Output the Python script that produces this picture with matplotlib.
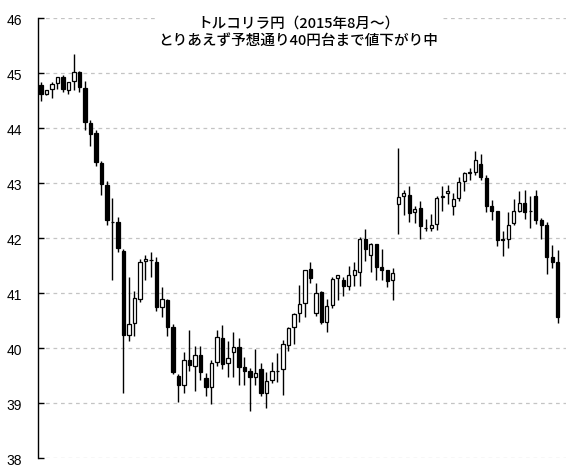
import matplotlib
matplotlib.use('Agg')
import matplotlib.pyplot as plt
import numpy as np


# daily candles (TRY/JPY from Aug 2015)
opens = [44.79, 44.62, 44.71, 44.82, 44.93, 44.69, 44.85, 45.02, 44.73, 44.09,
         43.91, 43.37, 42.97, 42.30, 42.30, 41.76, 40.23, 40.46, 40.90, 41.58,
         41.60, 41.56, 40.74, 40.88, 40.38, 39.50, 39.33, 39.78, 39.68, 39.88,
         39.45, 39.30, 39.75, 40.18, 39.73, 39.93, 40.02, 39.65, 39.58, 39.48,
         39.62, 39.19, 39.41, 39.59, 39.62, 40.05, 40.38, 40.64, 40.82, 41.44,
         40.64, 41.01, 40.47, 40.78, 41.27, 41.24, 41.12, 41.32, 41.39, 41.98,
         41.70, 41.89, 41.47, 41.41, 41.24, 42.62, 42.76, 42.79, 42.47, 42.55,
         42.18, 42.18, 42.25, 42.74, 42.81, 42.58, 42.72, 43.03, 43.18, 43.20,
         43.35, 43.09, 42.59, 42.50, 41.98, 41.99, 42.27, 42.50, 42.64, 42.50,
         42.77, 42.33, 42.24, 41.65, 41.56]
highs = [44.84, 44.70, 44.84, 44.93, 44.97, 44.84, 45.35, 45.04, 44.86, 44.14,
         43.97, 43.40, 43.04, 42.72, 42.39, 41.80, 41.29, 41.03, 41.61, 41.70,
         41.74, 41.65, 41.11, 40.90, 40.44, 39.53, 39.93, 40.33, 40.04, 40.04,
         39.55, 39.79, 40.33, 40.41, 40.13, 40.30, 40.19, 39.83, 39.64, 39.98,
         39.72, 39.56, 39.75, 39.91, 40.15, 40.39, 40.64, 41.15, 41.41, 41.57,
         41.19, 41.03, 40.90, 41.29, 41.33, 41.30, 41.50, 41.56, 42.01, 42.16,
         41.91, 41.89, 41.80, 41.42, 41.45, 43.64, 42.88, 42.94, 42.59, 42.67,
         42.35, 42.44, 42.76, 42.94, 42.97, 42.82, 43.11, 43.20, 43.27, 43.59,
         43.52, 43.15, 42.70, 42.50, 42.12, 42.48, 42.71, 42.85, 42.88, 42.77,
         42.88, 42.36, 42.30, 41.88, 41.79]
lows = [44.50, 44.60, 44.55, 44.71, 44.65, 44.61, 44.70, 44.65, 43.96, 43.68,
        43.31, 42.78, 42.24, 41.23, 41.75, 39.19, 40.12, 40.21, 40.83, 41.23,
        41.29, 40.68, 40.56, 40.22, 39.53, 39.01, 39.19, 39.59, 39.21, 39.42,
        39.12, 38.98, 39.67, 39.62, 39.48, 39.48, 39.33, 39.33, 38.85, 39.32,
        39.12, 38.91, 39.36, 39.39, 39.15, 39.94, 40.08, 40.48, 40.56, 41.19,
        40.58, 40.43, 40.30, 40.72, 40.87, 40.94, 41.06, 41.12, 41.12, 41.59,
        41.38, 41.24, 41.24, 41.11, 40.88, 42.08, 42.41, 42.30, 42.28, 41.98,
        42.12, 42.12, 42.15, 42.50, 42.62, 42.41, 42.68, 42.86, 43.06, 43.14,
        43.05, 42.47, 42.33, 41.85, 41.67, 41.82, 42.23, 42.48, 42.35, 42.19,
        42.25, 41.98, 41.35, 41.45, 40.45]
closes = [44.62, 44.70, 44.80, 44.93, 44.71, 44.84, 45.02, 44.75, 44.11, 43.89,
          43.38, 42.98, 42.33, 42.29, 41.82, 40.23, 40.43, 40.91, 41.57, 41.62,
          41.60, 40.74, 40.90, 40.38, 39.56, 39.33, 39.78, 39.69, 39.88, 39.56,
          39.30, 39.73, 40.20, 39.71, 39.82, 40.02, 39.65, 39.59, 39.48, 39.55,
          39.19, 39.40, 39.59, 39.59, 40.07, 40.36, 40.62, 40.80, 41.41, 41.28,
          41.00, 40.48, 40.77, 41.25, 41.32, 41.12, 41.32, 41.41, 41.98, 41.80,
          41.89, 41.47, 41.41, 41.21, 41.36, 42.74, 42.81, 42.45, 42.53, 42.21,
          42.18, 42.24, 42.73, 42.76, 42.85, 42.71, 43.02, 43.18, 43.20, 43.41,
          43.11, 42.58, 42.50, 41.96, 41.96, 42.24, 42.50, 42.64, 42.48, 42.50,
          42.33, 42.24, 41.65, 41.56, 40.56]

title_lines = ['トルコリラ円（2015年8月～）', 'とりあえず予想通り40円台まで値下がり中']
y_ticks = [38, 39, 40, 41, 42, 43, 44, 45, 46]


fig = plt.figure(figsize=(5.66, 4.77), dpi=100)
ax = fig.add_axes([0.068, 0.0377, 0.932, 0.9224])

x = np.arange(len(opens))
o = np.array(opens)
c = np.array(closes)
up = c >= o

ax.vlines(x, lows, highs, color='black', linewidth=1.0, zorder=2)
ax.bar(x, np.abs(c - o), bottom=np.minimum(o, c), width=0.6,
       color=np.where(up, 'white', 'black'), edgecolor='black',
       linewidth=0.9, zorder=3)

ax.set_xlim(-0.45, 95.5)
ax.set_ylim(38, 46)
ax.set_yticks(y_ticks)
ax.set_xticks([])
ax.yaxis.grid(True, linestyle=(0, (3, 3)), color='#c4c4c4', linewidth=0.9)
ax.set_axisbelow(True)
for side in ['top', 'right', 'bottom']:
    ax.spines[side].set_visible(False)
ax.spines['left'].set_linewidth(1.0)
ax.tick_params(axis='y', direction='in', length=4, width=1.0, pad=12,
               labelsize=10)
for lab in ax.get_yticklabels():
    lab.set_family('Liberation Sans')

ax.text(0.492, 0.969, '\n'.join(title_lines), transform=ax.transAxes,
        ha='center', va='center', fontsize=10.5, linespacing=1.3,
        family=['Noto Sans CJK JP', 'DejaVu Sans'], fontweight='medium',
        zorder=5, clip_on=False,
        bbox=dict(facecolor='white', edgecolor='none', pad=2))

fig.savefig('out.png', dpi=100)
